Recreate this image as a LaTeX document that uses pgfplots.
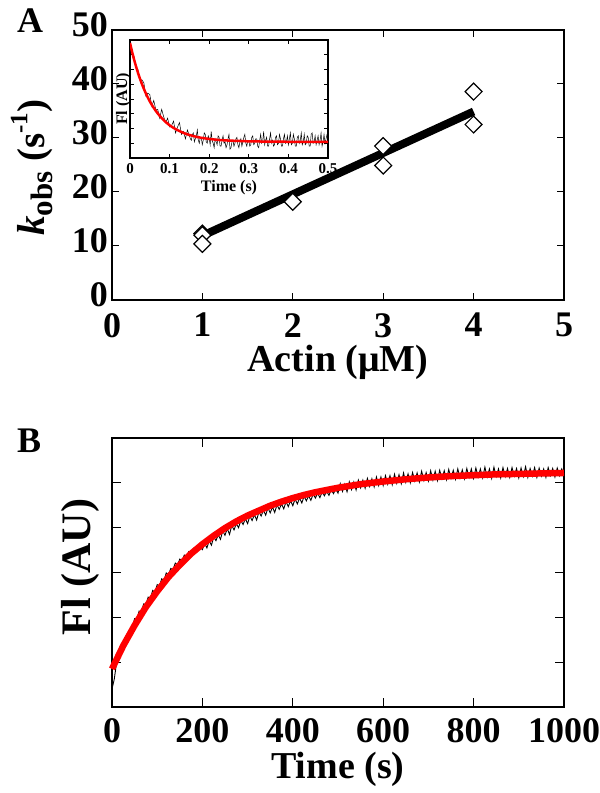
\documentclass[border=0pt]{standalone}
\usepackage{fontspec}
\setmainfont{Liberation Serif}
\usepackage{pgfplots}
\pgfplotsset{compat=1.18}
\begin{document}
\begin{tikzpicture}
\useasboundingbox (0pt,0pt) rectangle (600pt,793pt);
% ---------------- Panel A ----------------
\begin{axis}[at={(112pt,493pt)}, anchor=south west, scale only axis,
  width=452pt, height=270pt,
  xmin=0, xmax=5, ymin=0, ymax=50,
  xtick={0,1,2,3,4,5}, ytick={0,10,20,30,40,50},
  tick align=inside, major tick length=7pt,
  axis line style={line width=2pt}, tick style={line width=1pt, black},
  /pgf/number format/assume math mode=true,
  ticklabel style={font=\fontsize{36}{36}\selectfont\bfseries},
  yticklabel style={inner sep=0pt, xshift=-4pt, yshift=5pt},
  xticklabel style={inner sep=0pt, yshift=-13pt},
  xlabel={Actin (μM)},
  xlabel style={font=\fontsize{38}{38}\selectfont\bfseries, at={(axis description cs:0.5,-0.266)}, anchor=base},
  ylabel={\itshape k\upshape\raisebox{-0.2em}{\fontsize{31}{31}\selectfont obs} (s\raisebox{0.45em}{\fontsize{25}{25}\selectfont -1})},
  ylabel style={font=\fontsize{39}{39}\selectfont\bfseries, at={(axis description cs:-0.177,0.49)}, anchor=center},
]
\addplot[black, line width=8pt, line cap=butt] coordinates {(1,11.9) (4,34.9)};
\addplot[only marks, mark=square*, mark size=6pt,
  mark options={rotate=45, fill=white, draw=black, line width=1.2pt}]
  coordinates {(1,12.3) (1,12.0) (1,10.4) (2,18.2) (3,28.5) (3,24.9) (4,38.6) (4,32.5)};
\end{axis}
% ---------------- Inset ----------------
\begin{axis}[at={(130pt,635pt)}, anchor=south west, scale only axis,
  width=198pt, height=118pt,
  xmin=0, xmax=0.5, ymin=0, ymax=8,
  xtick={0,0.1,0.2,0.3,0.4,0.5}, ytick={1,2,3,4,5,6,7},
  yticklabels={},
  tick align=inside, major tick length=4pt,
  axis background/.style={fill=white},
  axis line style={line width=1.5pt}, tick style={line width=0.8pt, black},
  /pgf/number format/assume math mode=true,
  ticklabel style={font=\fontsize{15}{15}\selectfont\bfseries},
  xticklabel style={inner sep=0pt, yshift=-5pt},
  xlabel={Time (s)},
  xlabel style={font=\fontsize{16}{16}\selectfont\bfseries, at={(axis description cs:0.5,-0.288)}, anchor=base},
  ylabel={Fl (AU)},
  ylabel style={font=\fontsize{16}{16}\selectfont\bfseries, at={(axis description cs:-0.015,0.5)}, anchor=base},
]
\addplot[black, line width=0.5pt] coordinates {
(0,7.9) (0.005,7.1) (0.010,6.9) (0.015,6.2) (0.020,6.0) (0.025,5.3) (0.030,5.3) (0.035,5.1)
(0.040,4.2) (0.045,4.4) (0.050,4.3) (0.055,3.5) (0.060,3.9) (0.065,3.3) (0.070,3.3) (0.075,2.7)
(0.080,3.3) (0.085,2.8) (0.090,2.4) (0.095,2.7) (0.100,2.1) (0.105,2.2) (0.110,2.5) (0.115,1.7)
(0.120,2.1) (0.125,2.4) (0.130,1.6) (0.135,1.8) (0.140,1.3) (0.145,1.9) (0.150,1.5)
(0.1525,1.3) (0.155,1.2) (0.1575,1.6) (0.16,1.7) (0.1625,1.1) (0.165,1.3) (0.1675,1.5) (0.17,1.9)
(0.1725,1.2) (0.175,1.0) (0.1775,1.4) (0.18,1.4) (0.1825,0.9) (0.185,1.2) (0.1875,1.7) (0.19,1.6)
(0.1925,1.1) (0.195,1.0) (0.1975,1.5) (0.2,1.3)
(0.2025,0.9) (0.205,1.8) (0.2075,1.2) (0.21,1.0) (0.2125,0.7) (0.215,1.3) (0.2175,1.1) (0.22,0.9)
(0.2225,1.5) (0.225,1.4) (0.2275,0.8) (0.23,0.8) (0.2325,1.2) (0.235,1.5) (0.2375,1.0) (0.24,1.1)
(0.2425,0.7) (0.245,0.9) (0.2475,1.3) (0.25,1.6)
(0.2525,0.6) (0.255,0.7) (0.2575,1.1) (0.26,1.2) (0.2625,0.8) (0.265,1.0) (0.2675,1.3) (0.27,1.4)
(0.2725,0.9) (0.275,0.7) (0.2775,1.1) (0.28,1.3) (0.2825,0.8) (0.285,1.1) (0.2875,1.4) (0.29,1.6)
(0.2925,1.0) (0.295,0.8) (0.2975,1.2) (0.3,1.2)
(0.3025,0.8) (0.305,0.9) (0.3075,1.4) (0.31,1.5) (0.3125,0.9) (0.315,1.0) (0.3175,1.3) (0.32,1.3)
(0.3225,0.8) (0.325,0.7) (0.3275,1.2) (0.33,1.6) (0.3325,1.0) (0.335,1.1) (0.3375,1.8) (0.34,0.9)
(0.3425,1.2) (0.345,1.4) (0.3475,0.8) (0.35,0.8)
(0.3525,1.3) (0.355,1.7) (0.3575,1.0) (0.36,1.2) (0.3625,0.8) (0.365,0.9) (0.3675,1.4) (0.37,1.5)
(0.3725,0.9) (0.375,1.0) (0.3775,1.6) (0.38,1.3) (0.3825,0.8) (0.385,0.8) (0.3875,1.3) (0.39,1.6)
(0.3925,1.0) (0.395,1.1) (0.3975,1.5) (0.4,0.9)
(0.4025,1.3) (0.405,1.7) (0.4075,0.9) (0.41,1.0) (0.4125,1.6) (0.415,1.3) (0.4175,0.8) (0.42,0.8)
(0.4225,1.4) (0.425,1.5) (0.4275,1.0) (0.43,1.2) (0.4325,1.7) (0.435,0.9) (0.4375,1.1) (0.44,1.6)
(0.4425,0.9) (0.445,1.0) (0.4475,1.5) (0.45,1.4)
(0.4525,0.8) (0.455,0.8) (0.4575,1.6) (0.46,1.7) (0.4625,1.0) (0.465,1.1) (0.4675,1.5) (0.47,0.9)
(0.4725,1.2) (0.475,1.5) (0.4775,0.9) (0.48,1.2) (0.4825,1.7) (0.485,0.8) (0.4875,1.1) (0.49,1.6)
(0.4925,1.0) (0.495,1.3) (0.4975,1.6) (0.5,1.7)};
\addplot[red, line width=2.5pt] coordinates {
(0,7.80) (0.005,7.23) (0.010,6.70) (0.015,6.23) (0.020,5.79) (0.025,5.39) (0.030,5.02)
(0.035,4.69) (0.040,4.38) (0.045,4.10) (0.050,3.84) (0.055,3.61) (0.060,3.40) (0.065,3.20)
(0.070,3.02) (0.075,2.86) (0.080,2.71) (0.085,2.57) (0.090,2.44) (0.095,2.33) (0.100,2.22)
(0.110,2.04) (0.120,1.89) (0.130,1.76) (0.140,1.65) (0.150,1.56) (0.160,1.49) (0.170,1.42)
(0.180,1.37) (0.190,1.33) (0.200,1.29) (0.225,1.22) (0.250,1.18) (0.300,1.13) (0.350,1.11)
(0.400,1.10) (0.500,1.10)};
\end{axis}
% ---------------- Panel B ----------------
\begin{axis}[at={(112pt,86pt)}, anchor=south west, scale only axis,
  width=452pt, height=269pt,
  xmin=0, xmax=1000, ymin=0, ymax=6,
  xtick={0,200,400,600,800,1000}, ytick={1,2,3,4,5},
  yticklabels={},
  clip=false,
  tick align=inside, major tick length=9pt,
  axis line style={line width=2pt}, tick style={line width=1pt, black},
  /pgf/number format/assume math mode=true,
  /pgf/number format/1000 sep={},
  ticklabel style={font=\fontsize{36}{36}\selectfont\bfseries},
  xticklabel style={inner sep=0pt, yshift=-11pt},
  xlabel={Time (s)},
  xlabel style={font=\fontsize{38}{38}\selectfont\bfseries, at={(axis description cs:0.5,-0.264)}, anchor=base},
  ylabel={Fl (AU)},
  ylabel style={font=\fontsize{42}{42}\selectfont\bfseries, at={(axis description cs:-0.069,0.52)}, anchor=center},
]
\addplot[black, line width=0.9pt] coordinates {
(0,0.40) (5,0.62) (10,0.98) (15,1.05) (20,1.30) (25,1.33) (30,1.52) (35,1.58) (40,1.72) (45,1.78)
(50,1.97) (55,1.96) (60,2.14) (65,2.12) (70,2.30) (75,2.28) (80,2.45) (85,2.42) (90,2.60) (95,2.56)
(100,2.73) (105,2.70) (110,2.86) (115,2.82) (120,2.99) (125,2.95) (130,3.09) (135,3.06) (140,3.21) (145,3.17)
(150,3.30) (155,3.26) (160,3.39) (165,3.35) (170,3.47) (175,3.44) (180,3.54) (185,3.50) (190,3.60) (195,3.57)
(200,3.51) (205,3.65) (210,3.55) (215,3.71) (220,3.61) (225,3.79) (230,3.71) (235,3.84) (240,3.74) (245,3.93)
(250,3.83) (255,3.98) (260,3.85) (265,4.05) (270,3.95) (275,4.09) (280,4.00) (285,4.16) (290,4.07) (295,4.20)
(300,4.09) (305,4.26) (310,4.16) (315,4.29) (320,4.17) (325,4.35) (330,4.26) (335,4.39) (340,4.28) (345,4.44)
(350,4.33) (355,4.46) (360,4.34) (365,4.51) (370,4.41) (375,4.53) (380,4.42) (385,4.58) (390,4.47) (395,4.60)
(400,4.49) (405,4.64) (410,4.53) (415,4.66) (420,4.55) (425,4.70) (430,4.60) (435,4.71) (440,4.61) (445,4.75)
(450,4.66) (455,4.77) (460,4.67) (465,4.80) (470,4.71) (475,4.81) (480,4.72) (485,4.85) (490,4.76) (495,4.86)
(500,4.77) (505,4.98) (510,4.81) (515,4.97) (520,4.80) (525,5.02) (530,4.85) (535,5.02) (540,4.84) (545,5.06)
(550,4.89) (555,5.06) (560,4.88) (565,5.10) (570,4.92) (575,5.09) (580,4.91) (585,5.13) (590,4.94) (595,5.13)
(600,4.94) (605,5.16) (610,4.97) (615,5.16) (620,4.96) (625,5.19) (630,4.99) (635,5.18) (640,4.98) (645,5.22)
(650,5.01) (655,5.20) (660,5.00) (665,5.23) (670,5.04) (675,5.22) (680,5.02) (685,5.26) (690,5.05) (695,5.23)
(700,5.04) (705,5.27) (710,5.06) (715,5.26) (720,5.05) (725,5.28) (730,5.09) (735,5.27) (740,5.07) (745,5.30)
(750,5.10) (755,5.28) (760,5.08) (765,5.31) (770,5.11) (775,5.29) (780,5.09) (785,5.32) (790,5.12) (795,5.31)
(800,5.10) (805,5.33) (810,5.13) (815,5.31) (820,5.11) (825,5.35) (830,5.13) (835,5.31) (840,5.10) (845,5.35)
(850,5.14) (855,5.31) (860,5.11) (865,5.34) (870,5.14) (875,5.32) (880,5.12) (885,5.34) (890,5.15) (895,5.32)
(900,5.11) (905,5.33) (910,5.14) (915,5.36) (920,5.12) (925,5.32) (930,5.15) (935,5.34) (940,5.12) (945,5.33)
(950,5.15) (955,5.31) (960,5.12) (965,5.34) (970,5.16) (975,5.32) (980,5.13) (985,5.33) (990,5.16) (995,5.31)
(1000,5.19)};
\addplot[red, line width=6.5pt] coordinates {
(0,0.85) (25,1.37) (50,1.82) (75,2.23) (100,2.58) (125,2.90) (150,3.17) (175,3.42)
(200,3.63) (225,3.82) (250,3.99) (275,4.14) (300,4.27) (325,4.38) (350,4.49) (375,4.58)
(400,4.66) (425,4.73) (450,4.79) (475,4.84) (500,4.89) (550,4.97) (600,5.03) (650,5.08)
(700,5.12) (750,5.15) (800,5.17) (850,5.19) (900,5.20) (950,5.21) (1000,5.22)};
\end{axis}
\node[anchor=base west, inner sep=0pt, font=\fontsize{36}{36}\selectfont\bfseries] at (17pt,760pt) {A};
\node[anchor=base west, inner sep=0pt, font=\fontsize{36}{36}\selectfont\bfseries] at (17pt,340pt) {B};
\end{tikzpicture}
\end{document}
